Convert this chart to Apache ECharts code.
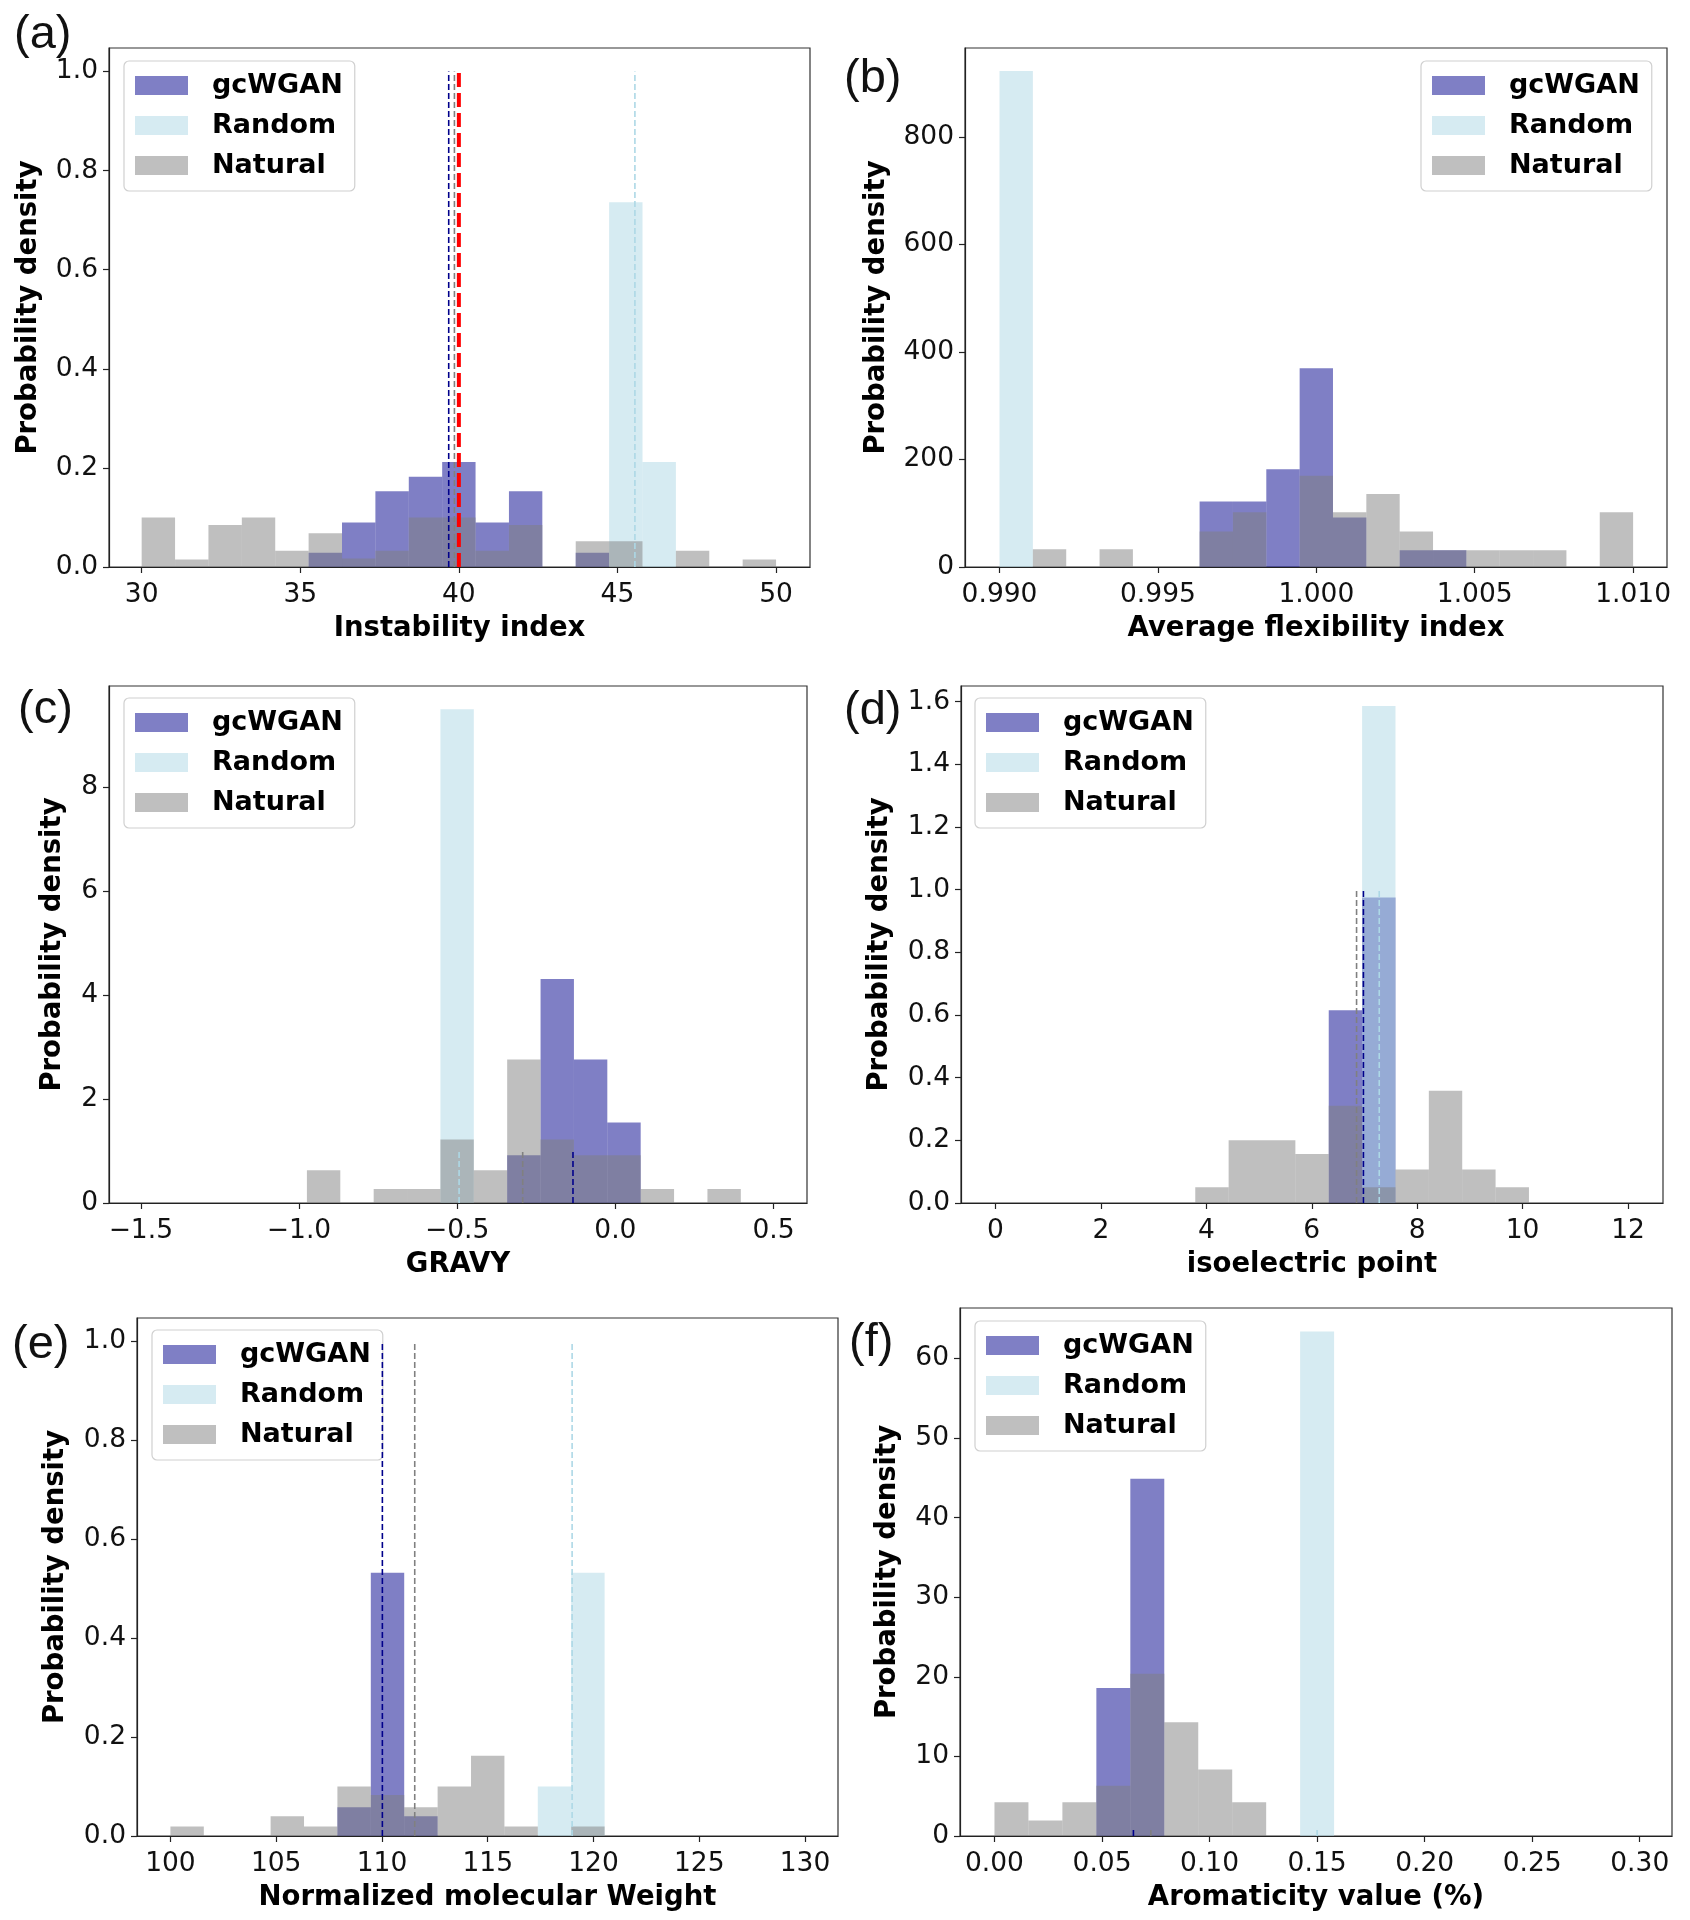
<!DOCTYPE html>
<html>
<head>
<meta charset="utf-8">
<script src="https://cdn.jsdelivr.net/npm/echarts@6/dist/echarts.min.js"></script>
<style>html,body{margin:0;padding:0;background:#fff}#chart{width:1690px;height:1920px}</style>
</head>
<body>
<div id="chart"></div>
<script>
// ---------- DATA (probability densities) ----------
const seriesNames = ['gcWGAN', 'Random', 'Natural'];

// (a) Instability index — 19 bins from 30 to 50
const a_binStart = 30, a_binWidth = 20 / 19;
const a_gcwgan  = [0, 0, 0, 0, 0, 0.029, 0.090, 0.153, 0.182, 0.212, 0.090, 0.153, 0, 0.029, 0, 0, 0, 0, 0];
const a_random  = [0, 0, 0, 0, 0, 0, 0, 0, 0, 0, 0, 0, 0, 0, 0.736, 0.212, 0, 0, 0];
const a_natural = [0.100, 0.015, 0.085, 0.100, 0.033, 0.068, 0.017, 0.033, 0.100, 0.100, 0.033, 0.085, 0, 0.052, 0.052, 0, 0.033, 0, 0.015];
const a_means = { gcWGAN: 39.68, Natural: 39.86, Random: 45.55, Threshold: 40 };
const a_xticks = [30, 35, 40, 45, 50];
const a_yticks = [0, 0.2, 0.4, 0.6, 0.8, 1.0];

// (b) Average flexibility index — 19 bins from 0.990 to 1.010
const b_binStart = 0.990, b_binWidth = 0.02 / 19;
const b_gcwgan  = [0, 0, 0, 0, 0, 0, 122, 122, 182, 370, 92, 0, 31, 31, 0, 0, 0, 0, 0];
const b_random  = [923, 0, 0, 0, 0, 0, 0, 0, 0, 0, 0, 0, 0, 0, 0, 0, 0, 0, 0];
const b_natural = [0, 33, 0, 33, 0, 0, 66, 102, 0, 170, 102, 136, 66, 31, 31, 31, 31, 0, 102];
const b_xticks = [0.990, 0.995, 1.000, 1.005, 1.010];
const b_yticks = [0, 200, 400, 600, 800];

// (c) GRAVY — 13 bins from -0.975
const c_binStart = -0.975, c_binWidth = 0.1055;
const c_gcwgan  = [0, 0, 0, 0, 0, 0, 0.92, 4.31, 2.76, 1.55, 0, 0, 0];
const c_random  = [0, 0, 0, 0, 9.5, 0, 0, 0, 0, 0, 0, 0, 0];
const c_natural = [0.63, 0, 0.27, 0.27, 1.22, 0.63, 2.76, 1.22, 0.92, 0.92, 0.27, 0, 0.27];
const c_means = { gcWGAN: -0.134, Natural: -0.293, Random: -0.494 };
const c_xticks = [-1.5, -1.0, -0.5, 0.0, 0.5];
const c_yticks = [0, 2, 4, 6, 8];

// (d) isoelectric point — 10 bins from 3.79
const d_binStart = 3.79, d_binWidth = 0.633;
const d_gcwgan  = [0, 0, 0, 0, 0.615, 0.975, 0, 0, 0, 0];
const d_random  = [0, 0, 0, 0, 0, 1.586, 0, 0, 0, 0];
const d_natural = [0.05, 0.20, 0.20, 0.156, 0.31, 0.05, 0.107, 0.358, 0.107, 0.05];
const d_means = { gcWGAN: 6.98, Natural: 6.85, Random: 7.28 };
const d_xticks = [0, 2, 4, 6, 8, 10, 12];
const d_yticks = [0, 0.2, 0.4, 0.6, 0.8, 1.0, 1.2, 1.4, 1.6];

// (e) Normalized molecular weight — 19 bins from 100 to 130
const e_binStart = 100, e_binWidth = 30 / 19;
const e_gcwgan  = [0, 0, 0, 0, 0, 0.058, 0.532, 0.040, 0, 0, 0, 0, 0, 0, 0, 0, 0, 0, 0];
const e_random  = [0, 0, 0, 0, 0, 0, 0, 0, 0, 0, 0, 0.100, 0.532, 0, 0, 0, 0, 0, 0];
const e_natural = [0.019, 0, 0, 0.040, 0.019, 0.100, 0.083, 0.058, 0.100, 0.162, 0.019, 0, 0.019, 0, 0, 0, 0, 0, 0];
const e_means = { gcWGAN: 110.02, Natural: 111.55, Random: 118.99 };
const e_xticks = [100, 105, 110, 115, 120, 125, 130];
const e_yticks = [0, 0.2, 0.4, 0.6, 0.8, 1.0];

// (f) Aromaticity — bins from 0 to 0.30 (width 0.3/19)
const f_binStart = 0, f_binWidth = 0.3 / 19;
const f_gcwgan  = [0, 0, 0, 18.6, 44.9, 0, 0, 0, 0, 0];
const f_random  = [0, 0, 0, 0, 0, 0, 0, 0, 0, 63.4];
const f_natural = [4.25, 1.95, 4.25, 6.3, 20.4, 14.3, 8.35, 4.25, 0, 0];
const f_means = { gcWGAN: 0.0646, Natural: 0.0727, Random: 0.15 };
const f_xticks = [0, 0.05, 0.10, 0.15, 0.20, 0.25, 0.30];
const f_yticks = [0, 10, 20, 30, 40, 50, 60];

// ---------- STYLE ----------
const FILL = { gcWGAN: 'rgba(0,0,139,0.5)', Random: 'rgba(173,216,230,0.5)', Natural: 'rgba(128,128,128,0.5)' };
const LINE = { gcWGAN: '#00008b', Random: '#add8e6', Natural: '#808080', Threshold: '#ff0000' };
const FONT = 'DejaVu Sans';
const TICK_SIZE = 26.5, BOLD_SIZE = 27.5;

const panels = [
  { label: '(a)', lx: 14, ly: 38, grid: { left: 109, top: 48, width: 701, height: 519 },
    xmin: 28.97, xmax: 51.07, ymax: 1.0476, xticks: a_xticks, yticks: a_yticks,
    xfmt: v => String(v), yfmt: v => v.toFixed(1), xname: 'Instability index', yGap: 66,
    start: a_binStart, width: a_binWidth, gc: a_gcwgan, rnd: a_random, nat: a_natural, means: a_means,
    legend: { left: 124, top: 61 } },
  { label: '(b)', lx: 844, ly: 82, grid: { left: 965, top: 48, width: 702, height: 519 },
    xmin: 0.98891, xmax: 1.01107, ymax: 965.6, xticks: b_xticks, yticks: b_yticks,
    xfmt: v => v.toFixed(3), yfmt: v => String(v), xname: 'Average flexibility index', yGap: 74,
    start: b_binStart, width: b_binWidth, gc: b_gcwgan, rnd: b_random, nat: b_natural, means: null,
    legend: { left: 1421, top: 61 } },
  { label: '(c)', lx: 18, ly: 713, grid: { left: 109, top: 686, width: 698, height: 517 },
    xmin: -1.6006, xmax: 0.6057, ymax: 9.946, xticks: c_xticks, yticks: c_yticks,
    xfmt: v => v.toFixed(1).replace('-', '\u2212'), yfmt: v => String(v), xname: 'GRAVY', yGap: 42,
    start: c_binStart, width: c_binWidth, gc: c_gcwgan, rnd: c_random, nat: c_natural, means: c_means,
    legend: { left: 124, top: 698 } },
  { label: '(d)', lx: 844, ly: 714, grid: { left: 961, top: 686, width: 702, height: 517 },
    xmin: -0.654, xmax: 12.663, ymax: 1.65, xticks: d_xticks, yticks: d_yticks,
    xfmt: v => String(v), yfmt: v => v.toFixed(1), xname: 'isoelectric point', yGap: 67,
    start: d_binStart, width: d_binWidth, gc: d_gcwgan, rnd: d_random, nat: d_natural, means: d_means,
    legend: { left: 975, top: 698 } },
  { label: '(e)', lx: 12, ly: 1348, grid: { left: 137, top: 1318, width: 701, height: 518 },
    xmin: 98.42, xmax: 131.56, ymax: 1.0469, xticks: e_xticks, yticks: e_yticks,
    xfmt: v => String(v), yfmt: v => v.toFixed(1), xname: 'Normalized molecular Weight', yGap: 67,
    start: e_binStart, width: e_binWidth, gc: e_gcwgan, rnd: e_random, nat: e_natural, means: e_means,
    legend: { left: 152, top: 1330 } },
  { label: '(f)', lx: 849, ly: 1346, grid: { left: 960, top: 1308, width: 712, height: 528 },
    xmin: -0.01603, xmax: 0.315, ymax: 66.35, xticks: f_xticks, yticks: f_yticks,
    xfmt: v => v.toFixed(2), yfmt: v => String(v), xname: 'Aromaticity value (%)', yGap: 58,
    start: f_binStart, width: f_binWidth, gc: f_gcwgan, rnd: f_random, nat: f_natural, means: f_means,
    legend: { left: 975, top: 1321 } }
];

function histData(start, width, vals) {
  const out = [];
  vals.forEach((v, i) => { if (v > 0) out.push([start + i * width, start + (i + 1) * width, v]); });
  return out;
}

function histSeries(name, idx, data) {
  return {
    type: 'custom', name: name, xAxisIndex: idx, yAxisIndex: idx,
    itemStyle: { color: FILL[name] },
    clip: true, silent: true,
    encode: { x: [0, 1], y: 2 },
    data: data,
    renderItem: function (params, api) {
      const p0 = api.coord([api.value(0), api.value(2)]);
      const p1 = api.coord([api.value(1), 0]);
      return { type: 'rect', shape: { x: p0[0], y: p0[1], width: p1[0] - p0[0], height: p1[1] - p0[1] },
               style: { fill: FILL[name] } };
    }
  };
}

const option = { animation: false, backgroundColor: '#fff', grid: [], xAxis: [], yAxis: [], series: [], legend: [], graphic: [] };

panels.forEach((p, i) => {
  option.grid.push(Object.assign({ show: true, borderColor: '#333', borderWidth: 1.2, backgroundColor: 'transparent' }, p.grid));
  option.xAxis.push({
    type: 'value', gridIndex: i, min: p.xmin, max: p.xmax,
    name: p.xname, nameLocation: 'middle', nameGap: 48,
    nameTextStyle: { fontFamily: FONT, fontWeight: 'bold', fontSize: BOLD_SIZE, color: '#000' },
    axisLine: { show: true, onZero: false, lineStyle: { color: '#222', width: 1.2 } },
    axisTick: { show: true, inside: false, length: 6, customValues: p.xticks, lineStyle: { color: '#222', width: 1.2 } },
    axisLabel: { customValues: p.xticks, formatter: p.xfmt, margin: 15, fontFamily: FONT, fontSize: TICK_SIZE, color: '#111' },
    splitLine: { show: false }
  });
  option.yAxis.push({
    type: 'value', gridIndex: i, min: 0, max: p.ymax,
    name: 'Probability density', nameLocation: 'middle', nameGap: p.yGap, nameRotate: 90,
    nameTextStyle: { fontFamily: FONT, fontWeight: 'bold', fontSize: BOLD_SIZE, color: '#000' },
    axisLine: { show: true, onZero: false, lineStyle: { color: '#222', width: 1.2 } },
    axisTick: { show: true, inside: false, length: 6, customValues: p.yticks, lineStyle: { color: '#222', width: 1.2 } },
    axisLabel: { customValues: p.yticks, formatter: p.yfmt, margin: 11, fontFamily: FONT, fontSize: TICK_SIZE, color: '#111' },
    splitLine: { show: false }
  });
  option.series.push(histSeries('gcWGAN', i, histData(p.start, p.width, p.gc)));
  option.series.push(histSeries('Random', i, histData(p.start, p.width, p.rnd)));
  option.series.push(histSeries('Natural', i, histData(p.start, p.width, p.nat)));
  if (p.means) {
    ['Random', 'Natural', 'gcWGAN', 'Threshold'].forEach(k => {
      if (p.means[k] === undefined) return;
      const thick = k === 'Threshold';
      option.series.push({
        type: 'line', name: k + ' mean', xAxisIndex: i, yAxisIndex: i, symbol: 'none', silent: true,
        data: [[p.means[k], 0], [p.means[k], 1]],
        lineStyle: { color: LINE[k], width: thick ? 4 : 1.6, type: thick ? [14, 6] : [6, 3] },
        z: 5
      });
    });
  }
  option.legend.push({
    left: p.legend.left, top: p.legend.top, orient: 'vertical', selectedMode: false,
    padding: [11, 12, 12, 11], itemGap: 13, itemWidth: 53, itemHeight: 19,
    borderColor: '#d0d0d0', borderWidth: 1.2, borderRadius: 5, backgroundColor: 'rgba(255,255,255,0.8)',
    icon: 'rect',
    textStyle: { fontFamily: FONT, fontWeight: 'bold', fontSize: 27, color: '#000', lineHeight: 19, padding: [0, 0, 0, 19] },
    data: seriesNames.map(n => ({ name: n, itemStyle: { color: FILL[n] } }))
  });
  option.graphic.push({
    type: 'text', left: p.lx, top: p.ly - 26,
    style: { text: p.label, font: '47px "Liberation Sans"', fill: '#111' }
  });
});

const chart = echarts.init(document.getElementById('chart'), null, { renderer: 'canvas' });
chart.setOption(option);
</script>
</body>
</html>
